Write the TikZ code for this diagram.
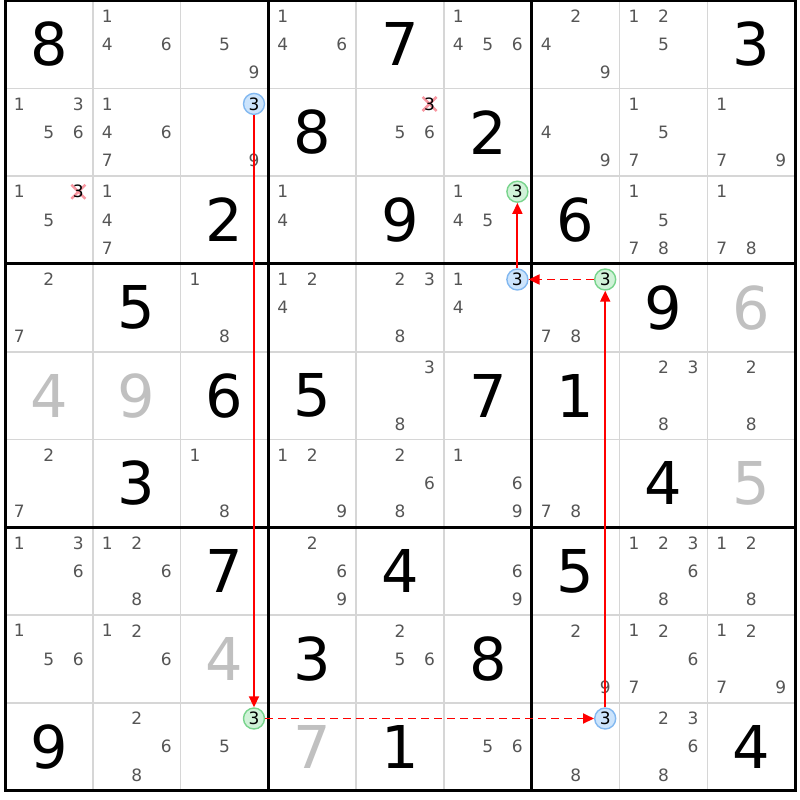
\documentclass[tikz,border=0pt]{standalone}
\usepackage{fontspec}
\setmainfont{DejaVu Sans}
\usetikzlibrary{arrows.meta}
\definecolor{candc}{RGB}{85,85,85}
\definecolor{solvc}{RGB}{192,192,192}
\definecolor{thinc}{RGB}{214,214,214}
\definecolor{bluefill}{RGB}{204,228,252}
\definecolor{blueedge}{RGB}{130,184,240}
\definecolor{greenfill}{RGB}{208,242,216}
\definecolor{greenedge}{RGB}{120,212,140}
\definecolor{crossc}{RGB}{247,150,160}
\definecolor{linkred}{RGB}{255,0,0}
\tikzset{
  candstyle/.style={inner sep=0pt, text=candc, font=\fontsize{17}{17}\selectfont},
  markedstyle/.style={inner sep=0pt, text=black, font=\fontsize{17}{17}\selectfont},
  givenstyle/.style={inner sep=0pt, text=black, font=\fontsize{59}{59}\selectfont},
  solvedstyle/.style={inner sep=0pt, text=solvc, font=\fontsize{59}{59}\selectfont},
  hlblue/.style={circle, minimum size=21pt, inner sep=0pt, draw=blueedge, fill=bluefill, line width=1.4pt, text=black, font=\fontsize{17}{17}\selectfont},
  hlgreen/.style={circle, minimum size=21pt, inner sep=0pt, draw=greenedge, fill=greenfill, line width=1.4pt, text=black, font=\fontsize{17}{17}\selectfont},
  crossline/.style={draw=crossc, line width=2.5pt},
  thinline/.style={draw=thinc, line width=1.6pt},
  thickline/.style={draw=black, line width=3pt, line cap=rect},
  linkbase/.style={color=linkred, line width=1.9pt},
  link/.style={linkbase, -{Triangle[length=11pt,width=10pt]}},
  dashed link/.style={dash pattern=on 8pt off 5pt}
}
% cell centre: x = 5+(c-0.5)*87.8, y = 0.5+(r-0.5)*87.8 (y downward)
\newcommand\givenD[3]{\node[givenstyle] (g#1#2) at ({5+(#2-0.5)*87.8},{0.5+(#1-0.5)*87.8}) {#3};}
\newcommand\solvedD[3]{\node[solvedstyle] (s#1#2) at ({5+(#2-0.5)*87.8},{0.5+(#1-0.5)*87.8}) {#3};}
\newcommand\candsD[3]{\foreach \d in {#3}{%
  \pgfmathtruncatemacro\sc{mod(\d-1,3)}%
  \pgfmathtruncatemacro\sr{floor((\d-1)/3)}%
  \node[candstyle] (k#1#2\d) at ({5+(#2-0.5)*87.8+(\sc-1)*29.5},{0.5+(#1-0.5)*87.8+(\sr-1)*28.3}) {\d};}}
% candidate 3 position (top right)
\newcommand\threepos[2]{\pgfmathsetmacro\tx{5+(#2-0.5)*87.8+29.5}\pgfmathsetmacro\ty{0.5+(#1-0.5)*87.8-28.3}}
\newcommand\blueThree[2]{\threepos{#1}{#2}\node[hlblue] (b#1#2) at (\tx,\ty) {3};}
\newcommand\greenThree[2]{\threepos{#1}{#2}\node[hlgreen] (h#1#2) at (\tx,\ty) {3};}
\newcommand\crossThree[2]{\threepos{#1}{#2}%
  \draw[crossline] ({\tx-7},{\ty-7}) -- ({\tx+7},{\ty+7});
  \draw[crossline] ({\tx-7},{\ty+7}) -- ({\tx+7},{\ty-7});
  \node[markedstyle] (x#1#2) at (\tx,\ty) {3};}
\begin{document}
\begin{tikzpicture}[x=1pt,y=-1pt]
\useasboundingbox (0,0) rectangle (800,800);
\fill[white] (0,0) rectangle (800,800);
% grid
\foreach \i in {1,2,4,5,7,8}{
  \draw[thinline] ({5+\i*87.8},0.5) -- ({5+\i*87.8},{0.5+9*87.8});
  \draw[thinline] (5,{0.5+\i*87.8}) -- ({5+9*87.8},{0.5+\i*87.8});
}
\foreach \i in {0,3,6,9}{
  \draw[thickline] ({5+\i*87.8},0.5) -- ({5+\i*87.8},{0.5+9*87.8});
  \draw[thickline] (5,{0.5+\i*87.8}) -- ({5+9*87.8},{0.5+\i*87.8});
}
% row 1
\givenD{1}{1}{8} \candsD{1}{2}{1,4,6} \candsD{1}{3}{5,9} \candsD{1}{4}{1,4,6} \givenD{1}{5}{7}
\candsD{1}{6}{1,4,5,6} \candsD{1}{7}{2,4,9} \candsD{1}{8}{1,2,5} \givenD{1}{9}{3}
% row 2
\candsD{2}{1}{1,3,5,6} \candsD{2}{2}{1,4,6,7} \candsD{2}{3}{9} \blueThree{2}{3} \givenD{2}{4}{8}
\crossThree{2}{5} \candsD{2}{5}{5,6} \givenD{2}{6}{2} \candsD{2}{7}{4,9} \candsD{2}{8}{1,5,7} \candsD{2}{9}{1,7,9}
% row 3
\candsD{3}{1}{1,5} \crossThree{3}{1} \candsD{3}{2}{1,4,7} \givenD{3}{3}{2} \candsD{3}{4}{1,4} \givenD{3}{5}{9}
\candsD{3}{6}{1,4,5} \greenThree{3}{6} \givenD{3}{7}{6} \candsD{3}{8}{1,5,7,8} \candsD{3}{9}{1,7,8}
% row 4
\candsD{4}{1}{2,7} \givenD{4}{2}{5} \candsD{4}{3}{1,8} \candsD{4}{4}{1,2,4} \candsD{4}{5}{2,3,8}
\candsD{4}{6}{1,4} \blueThree{4}{6} \candsD{4}{7}{7,8} \greenThree{4}{7} \givenD{4}{8}{9} \solvedD{4}{9}{6}
% row 5
\solvedD{5}{1}{4} \solvedD{5}{2}{9} \givenD{5}{3}{6} \givenD{5}{4}{5} \candsD{5}{5}{3,8} \givenD{5}{6}{7}
\givenD{5}{7}{1} \candsD{5}{8}{2,3,8} \candsD{5}{9}{2,8}
% row 6
\candsD{6}{1}{2,7} \givenD{6}{2}{3} \candsD{6}{3}{1,8} \candsD{6}{4}{1,2,9} \candsD{6}{5}{2,6,8}
\candsD{6}{6}{1,6,9} \candsD{6}{7}{7,8} \givenD{6}{8}{4} \solvedD{6}{9}{5}
% row 7
\candsD{7}{1}{1,3,6} \candsD{7}{2}{1,2,6,8} \givenD{7}{3}{7} \candsD{7}{4}{2,6,9} \givenD{7}{5}{4}
\candsD{7}{6}{6,9} \givenD{7}{7}{5} \candsD{7}{8}{1,2,3,6,8} \candsD{7}{9}{1,2,8}
% row 8
\candsD{8}{1}{1,5,6} \candsD{8}{2}{1,2,6} \solvedD{8}{3}{4} \givenD{8}{4}{3} \candsD{8}{5}{2,5,6}
\givenD{8}{6}{8} \candsD{8}{7}{2,9} \candsD{8}{8}{1,2,6,7} \candsD{8}{9}{1,2,7,9}
% row 9
\givenD{9}{1}{9} \candsD{9}{2}{2,6,8} \candsD{9}{3}{5} \greenThree{9}{3} \solvedD{9}{4}{7} \givenD{9}{5}{1}
\candsD{9}{6}{5,6} \candsD{9}{7}{8} \blueThree{9}{7} \candsD{9}{8}{2,3,6,8} \givenD{9}{9}{4}
% chain
\draw[link] (b23) -- (h93);
\draw[link, dashed link] (h93) -- (b97);
\draw[link] (b97) -- (h47);
\draw[link, dashed link] (h47) -- (b46);
\draw[link] (b46) -- (h36);
\end{tikzpicture}
\end{document}
